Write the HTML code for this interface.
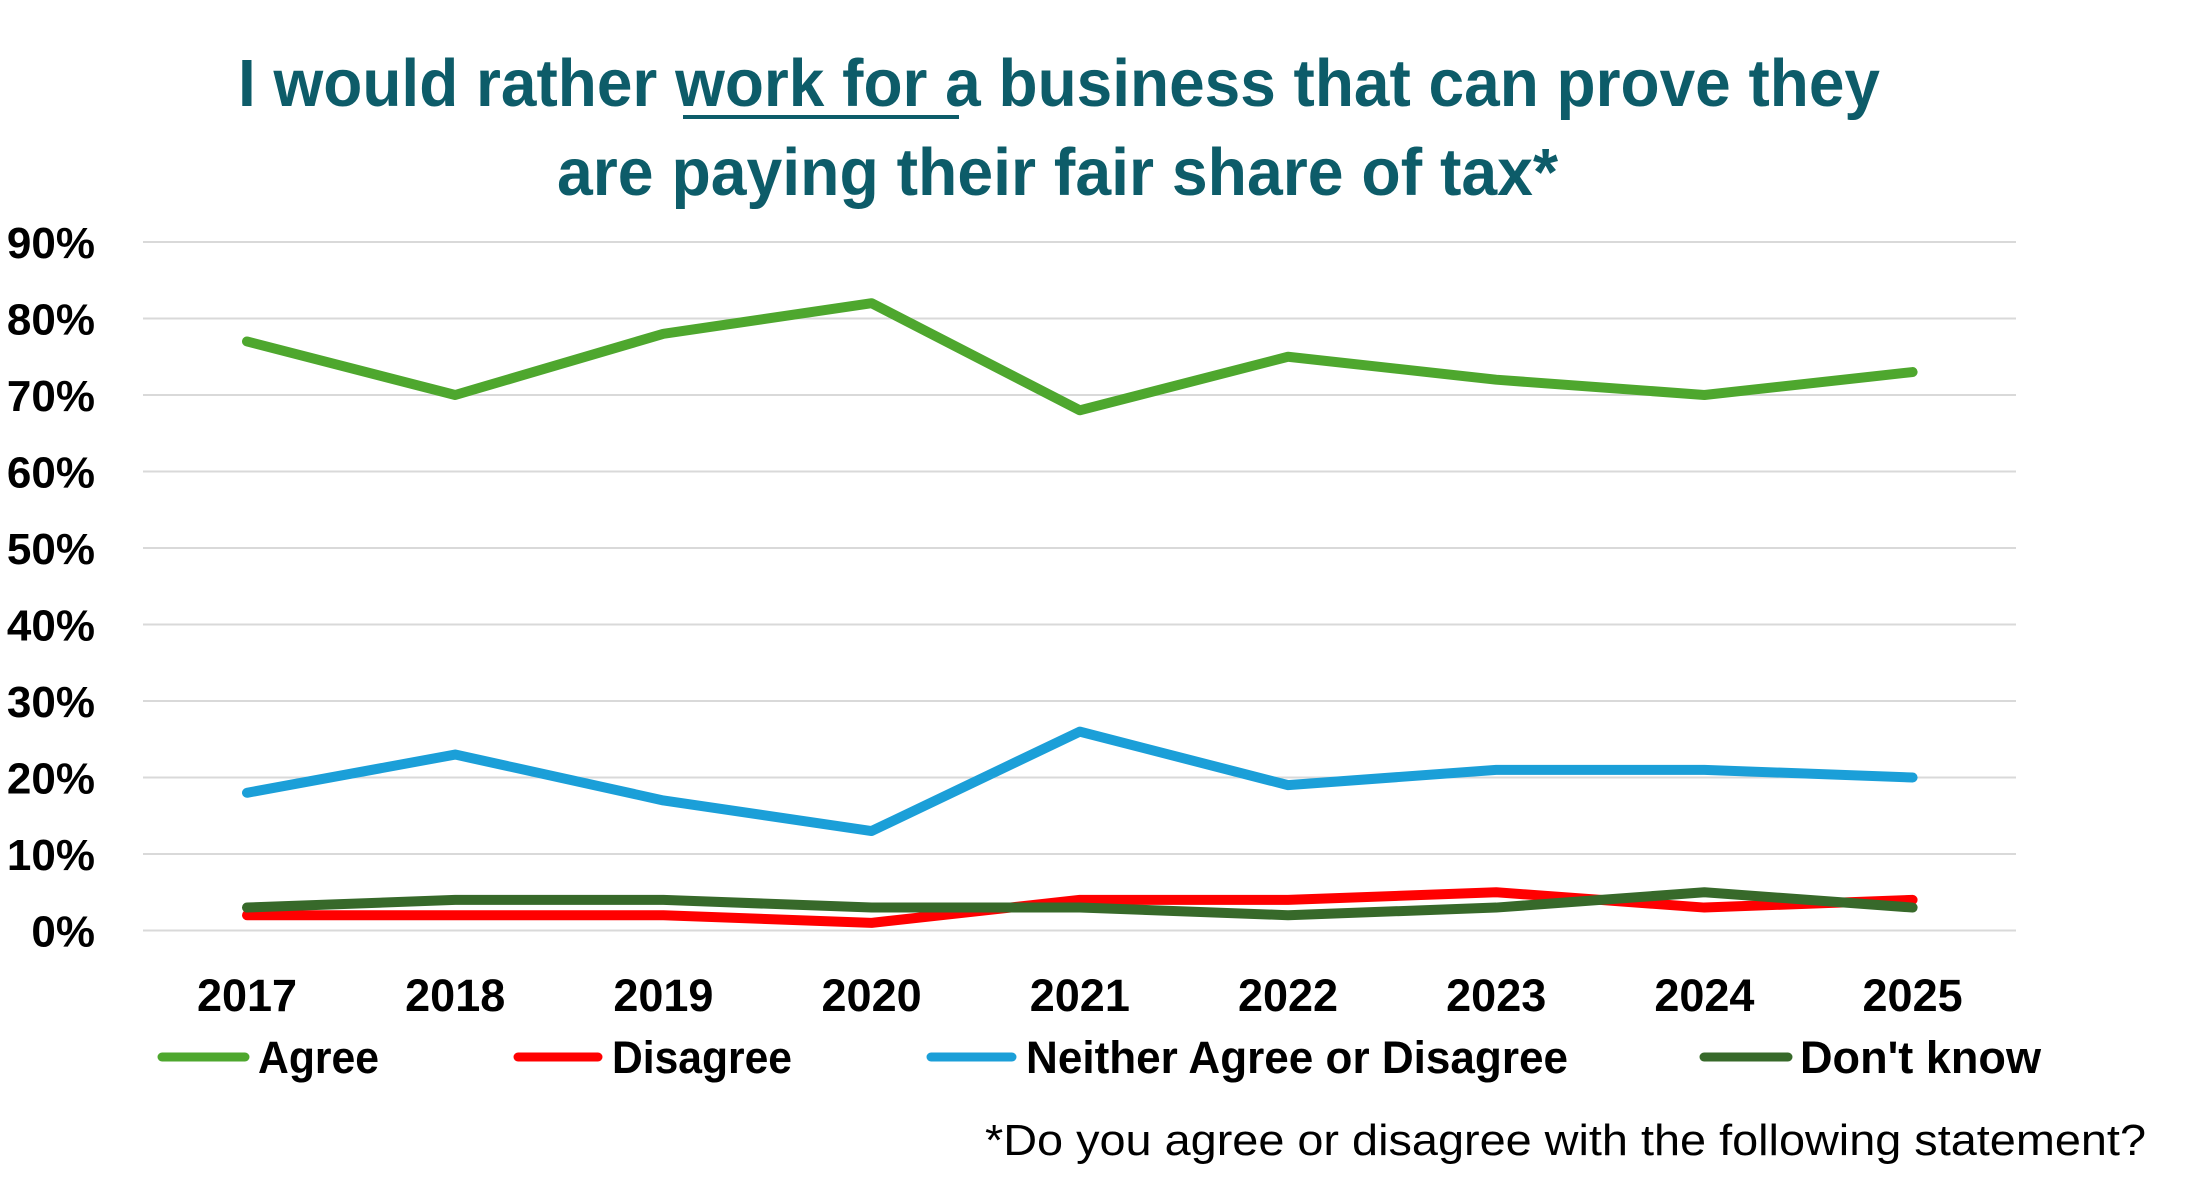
<!DOCTYPE html>
<html>
<head>
<meta charset="utf-8">
<style>
html,body{margin:0;padding:0;background:#fff;}
svg{display:block;}
text{font-family:"Liberation Sans",Arial,sans-serif;}
</style>
</head>
<body>
<svg width="2193" height="1194" viewBox="0 0 2193 1194" xmlns="http://www.w3.org/2000/svg">
<rect width="2193" height="1194" fill="#fff"/>
<!-- Title -->
<text x="238" y="106" font-size="67" font-weight="bold" fill="#0d5c69" textLength="1642" lengthAdjust="spacingAndGlyphs">I would rather work for a business that can prove they</text>
<rect x="683" y="115" width="276" height="4" fill="#0d5c69"/>
<text x="557" y="195" font-size="67" font-weight="bold" fill="#0d5c69" textLength="1001" lengthAdjust="spacingAndGlyphs">are paying their fair share of tax*</text>

<!-- Gridlines -->
<g stroke="#d9d9d9" stroke-width="2">
<line x1="143" x2="2016" y1="242" y2="242"/>
<line x1="143" x2="2016" y1="318.5" y2="318.5"/>
<line x1="143" x2="2016" y1="395" y2="395"/>
<line x1="143" x2="2016" y1="471.5" y2="471.5"/>
<line x1="143" x2="2016" y1="548" y2="548"/>
<line x1="143" x2="2016" y1="624.5" y2="624.5"/>
<line x1="143" x2="2016" y1="701" y2="701"/>
<line x1="143" x2="2016" y1="777.5" y2="777.5"/>
<line x1="143" x2="2016" y1="854" y2="854"/>
<line x1="143" x2="2016" y1="930.5" y2="930.5"/>
</g>

<!-- Y labels -->
<g font-size="44" font-weight="bold" fill="#000" text-anchor="end">
<text x="95" y="258">90%</text>
<text x="95" y="334.5">80%</text>
<text x="95" y="411">70%</text>
<text x="95" y="487.5">60%</text>
<text x="95" y="564">50%</text>
<text x="95" y="640.5">40%</text>
<text x="95" y="717">30%</text>
<text x="95" y="793.5">20%</text>
<text x="95" y="870">10%</text>
<text x="95" y="946.5">0%</text>
</g>

<!-- X labels -->
<g font-size="45" font-weight="bold" fill="#000" text-anchor="middle">
<text x="247" y="1011">2017</text>
<text x="455.2" y="1011">2018</text>
<text x="663.4" y="1011">2019</text>
<text x="871.6" y="1011">2020</text>
<text x="1079.8" y="1011">2021</text>
<text x="1288" y="1011">2022</text>
<text x="1496.2" y="1011">2023</text>
<text x="1704.4" y="1011">2024</text>
<text x="1912.6" y="1011">2025</text>
</g>

<!-- Series -->
<g fill="none" stroke-width="10" stroke-linejoin="round" stroke-linecap="round">
<polyline stroke="#4ea72e" points="247,341.45 455.2,395 663.4,333.8 871.6,303.2 1079.8,410.3 1288,356.75 1496.2,379.7 1704.4,395 1912.6,372.05"/>
<polyline stroke="#ff0000" points="247,915.2 455.2,915.2 663.4,915.2 871.6,922.85 1079.8,899.9 1288,899.9 1496.2,892.25 1704.4,907.55 1912.6,899.9"/>
<polyline stroke="#1b9fd8" points="247,792.8 455.2,754.55 663.4,800.45 871.6,831.05 1079.8,731.6 1288,785.15 1496.2,769.85 1704.4,769.85 1912.6,777.5"/>
<polyline stroke="#37692a" points="247,907.55 455.2,899.9 663.4,899.9 871.6,907.55 1079.8,907.55 1288,915.2 1496.2,907.55 1704.4,892.25 1912.6,907.55"/>
</g>

<!-- Legend -->
<g stroke-width="9" stroke-linecap="round">
<line x1="162" x2="245" y1="1057" y2="1057" stroke="#4ea72e"/>
<line x1="518" x2="598" y1="1057" y2="1057" stroke="#ff0000"/>
<line x1="931" x2="1012" y1="1057" y2="1057" stroke="#1b9fd8"/>
<line x1="1704" x2="1788" y1="1057" y2="1057" stroke="#37692a"/>
</g>
<g font-size="45" font-weight="bold" fill="#000">
<text x="258" y="1073" textLength="121" lengthAdjust="spacingAndGlyphs">Agree</text>
<text x="612" y="1073" textLength="180" lengthAdjust="spacingAndGlyphs">Disagree</text>
<text x="1026" y="1073" textLength="542" lengthAdjust="spacingAndGlyphs">Neither Agree or Disagree</text>
<text x="1800" y="1073" textLength="241" lengthAdjust="spacingAndGlyphs">Don't know</text>
</g>

<!-- Footnote -->
<text x="985" y="1155" font-size="44" fill="#000" textLength="1161" lengthAdjust="spacingAndGlyphs">*Do you agree or disagree with the following statement?</text>
</svg>
</body>
</html>
